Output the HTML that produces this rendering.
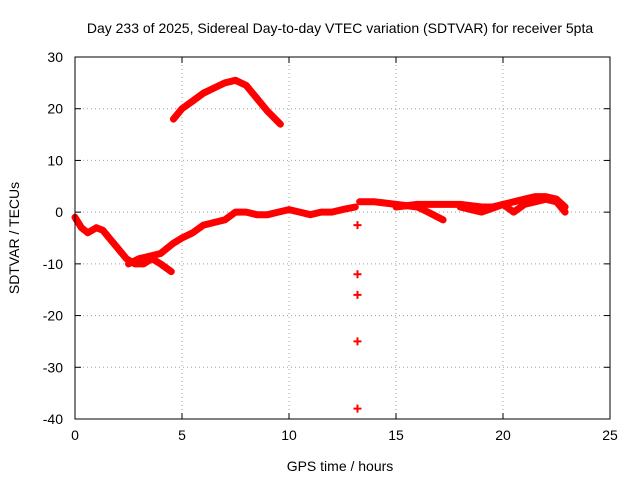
<!DOCTYPE html>
<html><head><meta charset="utf-8">
<style>
html,body{margin:0;padding:0;background:#fff;}
svg{display:block;font-family:"Liberation Sans",sans-serif;}
</style></head>
<body>
<svg id="chart" width="640" height="480" viewBox="0 0 640 480" xmlns="http://www.w3.org/2000/svg">
<text x="340" y="33" font-size="14" text-anchor="middle" fill="#000">Day 233 of 2025, Sidereal Day-to-day VTEC variation (SDTVAR) for receiver 5pta</text>
<text x="340" y="471" font-size="14" text-anchor="middle" fill="#000">GPS time / hours</text>
<text transform="translate(19,238) rotate(-90)" font-size="14" text-anchor="middle" fill="#000">SDTVAR / TECUs</text>
<g id="grid"></g>
<g id="ticks"></g>
<g id="marks"></g>
<rect x="75" y="57" width="535" height="362" fill="none" stroke="#000" stroke-width="1"/>
</svg>
<script>
const xTicks=[0,5,10,15,20,25];
const yTicks=[30,20,10,0,-10,-20,-30,-40];
const mainHours=[0,0.3,0.6,1,1.3,1.6,2,2.4,2.8,3.2,3.6,4,4.5];
const mainValues=[-1,-3,-4,-3,-3.5,-5,-7,-9,-10,-10,-9,-10,-11.5];
const branch2Hours=[2.5,3,3.5,4,4.6,5,5.5,6,6.5,7,7.5,8,8.5,9,9.5,10,10.5,11,11.5,12,12.5,13.1];
const branch2Values=[-10,-9,-8.5,-8,-6,-5,-4,-2.5,-2,-1.5,0,0,-0.5,-0.5,0,0.5,0,-0.5,0,0,0.5,1];
const branch3Hours=[13.3,14,15,16,16.5,17.2];
const branch3Values=[2,2,1.5,1,0,-1.5];
const branch4Hours=[15,16,17,18,19,19.5,20,20.5,21,21.5,22,22.5,22.9];
const branch4Values=[1,1.5,1.5,1.5,1,1,1.5,2,2.5,3,3,2.5,1];
const branch5Hours=[18,18.5,19,20,20.5,21,21.5,22,22.5,22.9];
const branch5Values=[1,0.5,0,1.5,0,1.5,2,2.5,2,0];
const arcHours=[4.6,5,5.5,6,6.5,7,7.5,8,8.5,9,9.6];
const arcValues=[18,20,21.5,23,24,25,25.5,24.5,22,19.5,17];
const outlierHours=[13.2,13.2,13.2,13.2,13.2];
const outlierValues=[-2.5,-12,-16,-25,-38];

const NS="http://www.w3.org/2000/svg";
const X0=75,X1=610,Y0=57,Y1=419;
const xS=h=>X0+(h-0)/(25-0)*(X1-X0);
const yS=v=>Y1-(v-(-40))/(30-(-40))*(Y1-Y0);
function mk(tag,attrs,parent){const e=document.createElementNS(NS,tag);for(const k in attrs)e.setAttribute(k,attrs[k]);parent.appendChild(e);return e;}
const grid=document.getElementById('grid'),ticks=document.getElementById('ticks'),marks=document.getElementById('marks');
xTicks.forEach(t=>{
  const x=xS(t);
  if(t>0&&t<25){const g=mk('line',{x1:x,x2:x,y1:Y0,y2:Y1,stroke:'#a0a0a0','stroke-dasharray':'1,3','stroke-width':1},grid);
  
  }
  mk('line',{x1:x,x2:x,y1:Y1,y2:Y1-6,stroke:'#000'},ticks);
  mk('line',{x1:x,x2:x,y1:Y0,y2:Y0+6,stroke:'#000'},ticks);
  const tx=mk('text',{x:x,y:Y1+21,'font-size':14,'text-anchor':'middle'},ticks);tx.textContent=t;
  
  
});
yTicks.forEach(t=>{
  const y=yS(t);
  if(t<30&&t>-40){const g=mk('line',{x1:X0,x2:X1,y1:y,y2:y,stroke:'#a0a0a0','stroke-dasharray':'1,3','stroke-width':1},grid);
  
  }
  mk('line',{x1:X0,x2:X0+6,y1:y,y2:y,stroke:'#000'},ticks);
  mk('line',{x1:X1,x2:X1-6,y1:y,y2:y,stroke:'#000'},ticks);
  const tx=mk('text',{x:X0-12,y:y+5,'font-size':14,'text-anchor':'end'},ticks);tx.textContent=t;
  
  
});
function band(hs,vs,name){
  const pts=hs.map((h,i)=>xS(h).toFixed(1)+','+yS(vs[i]).toFixed(1)).join(' ');
  const p=mk('polyline',{points:pts,fill:'none',stroke:'#ff0000','stroke-width':7,'stroke-linejoin':'round','stroke-linecap':'round'},marks);
  
  
}
band(mainHours,mainValues,'series-early-band');
band(branch2Hours,branch2Values,'series-main-band');
band(branch3Hours,branch3Values,'series-mid-band');
band(branch4Hours,branch4Values,'series-late-band');
band(branch5Hours,branch5Values,'series-late-lower-band');
band(arcHours,arcValues,'series-arc-band');
outlierHours.forEach((h,i)=>{
  const x=xS(h),y=yS(outlierValues[i]);
  const p=mk('path',{d:`M${x-4},${y}H${x+4}M${x},${y-4}V${y+4}`,stroke:'#ff0000','stroke-width':2},marks);
  
  
});
</script>
</body></html>
